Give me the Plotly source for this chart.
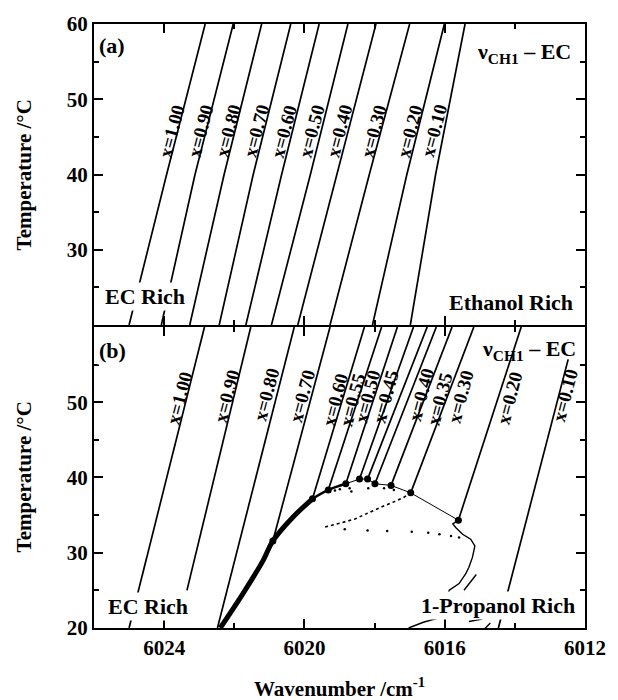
import plotly.graph_objects as go
from plotly.subplots import make_subplots

FONT = "Liberation Serif"

# ---------------- Panel (a): EC - ethanol ----------------
a_comp = ["1.00", "0.90", "0.80", "0.70", "0.60", "0.50", "0.40", "0.30", "0.20", "0.10"]
a_T = [20, 40, 60]
a_wn_T20 = [6025.00, 6024.08, 6023.27, 6022.43, 6021.67, 6020.94, 6020.19, 6019.27, 6018.06, 6016.98]
a_wn_T40 = [6023.93, 6023.12, 6022.29, 6021.46, 6020.65, 6019.83, 6019.08, 6018.15, 6017.08, 6016.26]
a_wn_T60 = [6022.83, 6022.03, 6021.22, 6020.39, 6019.58, 6018.76, 6017.96, 6017.00, 6016.01, 6015.42]
# label placement (wavenumber, temperature)
a_lab_wn = [6023.77, 6022.95, 6022.16, 6021.36, 6020.57, 6019.78, 6018.99, 6018.01, 6016.98, 6016.29]
a_lab_T = [45.8] * 10

# ---------------- Panel (b): EC - 1-propanol ----------------
b_comp = ["1.00", "0.90", "0.80", "0.70", "0.60", "0.55", "0.50", "0.45", "0.425", "0.40", "0.35", "0.30", "0.20", "0.10"]
b_T_low = [20, 25, 20, 31.57, 37.17, 38.35, 39.17, 39.79, 39.79, 39.17, 38.95, 37.96, 34.33, 20]
b_wn_low = [6025.00, 6023.35, 6022.48, 6020.90, 6019.77, 6019.32, 6018.82, 6018.43, 6018.20, 6017.99, 6017.53, 6016.97, 6015.61, 6014.47]
b_T_high = [60, 60, 60, 60, 60, 60, 60, 60, 60, 60, 60, 60, 60, 55.7]
b_wn_high = [6022.85, 6021.53, 6020.29, 6019.27, 6018.29, 6017.80, 6017.35, 6016.89, 6016.50, 6016.24, 6015.79, 6015.17, 6013.82, 6012.48]
b_has_marker = [False, False, False, True, True, True, True, True, True, True, True, True, True, False]

b_lab_text = ["1.00", "0.90", "0.80", "0.70", "0.60", "0.55", "0.50", "0.45", "0.40", "0.35", "0.30", "0.20", "0.10"]
b_lab_wn = [6023.55, 6022.22, 6021.08, 6020.06, 6019.11, 6018.62, 6018.20, 6017.68, 6016.66, 6016.15, 6015.54, 6014.14, 6012.56]
b_lab_T = [50.58, 50.80, 51.01, 50.90, 50.31, 50.31, 50.75, 50.75, 50.97, 50.54, 50.75, 50.58, 51.01]

# phase boundary (thick part, EC-rich side)
bin_thick_wn = [6022.40, 6021.78, 6021.18, 6020.90, 6020.33, 6019.77]
bin_thick_T = [20.0, 24.36, 28.95, 31.57, 34.72, 37.17]
bin_mid_wn = [6019.77, 6019.32, 6018.82]
bin_mid_T = [37.17, 38.35, 39.17]
bin_thin_wn = [6018.82, 6018.43, 6018.20, 6017.99, 6017.53, 6016.97, 6015.61]
bin_thin_T = [39.17, 39.79, 39.79, 39.17, 38.95, 37.96, 34.33]

# dotted trace below the boundary
dot_wn = [6019.41, 6019.20, 6018.99, 6018.78, 6018.57, 6018.33, 6018.10, 6017.82, 6017.54, 6017.35, 6017.17, 6016.97]
dot_T = [33.41, 33.67, 33.93, 34.20, 34.46, 34.98, 35.50, 36.05, 36.59, 36.97, 37.34, 38.00]
sparse_wn = [6018.85, 6018.20, 6017.64, 6016.94, 6016.47, 6016.15, 6015.82, 6015.59]
sparse_T = [33.11, 32.97, 32.88, 32.79, 32.66, 32.45, 32.23, 32.01]
speck_wn = [6019.13, 6018.99, 6018.66, 6018.71, 6018.18, 6017.73, 6017.45]
speck_T = [38.26, 38.45, 38.13, 38.56, 38.56, 38.56, 38.35]

# 1-propanol rich branch
pr_wn = [6015.61, 6015.77, 6015.68, 6015.49, 6015.26, 6015.14, 6015.17, 6015.21, 6015.31, 6015.40, 6015.59, 6015.87, 6016.10, 6016.61, 6017.03]
pr_T = [34.33, 33.84, 33.32, 32.45, 31.80, 30.92, 30.26, 29.38, 28.07, 27.21, 25.90, 25.02, 21.44, 20.76, 20.00]
pr2_wn = [6015.10, 6015.45]
pr2_T = [27.11, 25.02]
pr3_wn = [6015.31, 6014.93]
pr3_T = [20.86, 21.18]
pr4_wn = [6014.93, 6014.70]
pr4_T = [19.55, 20.66]

fig = make_subplots(rows=2, cols=1, shared_xaxes=True, vertical_spacing=2 / 608)

LW = 1.7
for i, c in enumerate(a_comp):
    fig.add_trace(go.Scatter(x=[a_wn_T20[i], a_wn_T40[i], a_wn_T60[i]], y=a_T, mode="lines",
                             line=dict(color="black", width=LW), showlegend=False), row=1, col=1)

for i, c in enumerate(b_comp):
    fig.add_trace(go.Scatter(x=[b_wn_low[i], b_wn_high[i]], y=[b_T_low[i], b_T_high[i]], mode="lines",
                             line=dict(color="black", width=LW), showlegend=False), row=2, col=1)

fig.add_trace(go.Scatter(x=bin_thick_wn, y=bin_thick_T, mode="lines", line=dict(color="black", width=5, shape="spline"),
                         showlegend=False), row=2, col=1)
fig.add_trace(go.Scatter(x=bin_mid_wn, y=bin_mid_T, mode="lines", line=dict(color="black", width=2.5, shape="spline"),
                         showlegend=False), row=2, col=1)
fig.add_trace(go.Scatter(x=bin_thin_wn, y=bin_thin_T, mode="lines", line=dict(color="black", width=1),
                         showlegend=False), row=2, col=1)
fig.add_trace(go.Scatter(x=dot_wn, y=dot_T, mode="lines", line=dict(color="black", width=1.6, dash="dot"),
                         showlegend=False), row=2, col=1)
fig.add_trace(go.Scatter(x=sparse_wn, y=sparse_T, mode="markers", marker=dict(color="black", size=2.5),
                         showlegend=False), row=2, col=1)
fig.add_trace(go.Scatter(x=speck_wn, y=speck_T, mode="markers", marker=dict(color="black", size=2.5),
                         showlegend=False), row=2, col=1)
for xs, ys in [(pr_wn, pr_T), (pr2_wn, pr2_T), (pr3_wn, pr3_T), (pr4_wn, pr4_T)]:
    fig.add_trace(go.Scatter(x=xs, y=ys, mode="lines", line=dict(color="black", width=1.4),
                             showlegend=False), row=2, col=1)

mk_x = [b_wn_low[i] for i in range(len(b_comp)) if b_has_marker[i]]
mk_y = [b_T_low[i] for i in range(len(b_comp)) if b_has_marker[i]]
fig.add_trace(go.Scatter(x=mk_x, y=mk_y, mode="markers", marker=dict(color="black", size=7),
                         showlegend=False), row=2, col=1)

tickfont = dict(family=FONT, size=21, color="black", weight="bold")
xcommon = dict(range=[6026, 6012], autorange=False, tickmode="array", tickvals=[6024, 6020, 6016, 6012],
               ticktext=["6024", "6020", "6016", "6012"],
               ticks="inside", ticklen=9, tickwidth=1.5, tickcolor="black",
               showline=True, linewidth=2, linecolor="black", mirror="ticks",
               showgrid=False, zeroline=False, tickfont=tickfont,
               minor=dict(ticks="inside", ticklen=5, tickwidth=1.5, tickcolor="black",
                          tickmode="array", tickvals=[6022, 6018, 6014], showgrid=False))
fig.update_xaxes(**xcommon)
fig.update_xaxes(showticklabels=False, row=1, col=1)

ycommon = dict(range=[20, 60], autorange=False, tickmode="array",
               ticks="inside", ticklen=9, tickwidth=1.5, tickcolor="black",
               showline=True, linewidth=2, linecolor="black", mirror="ticks",
               showgrid=False, zeroline=False, tickfont=tickfont,
               minor=dict(ticks="inside", ticklen=5, tickwidth=1.5, tickcolor="black",
                          tickmode="array", tickvals=[25, 35, 45, 55], showgrid=False))
fig.update_yaxes(**ycommon)
fig.update_yaxes(tickvals=[30, 40, 50, 60], ticktext=["30", "40", "50", "60"], row=1, col=1)
fig.update_yaxes(tickvals=[20, 30, 40, 50], ticktext=["20", "30", "40", "50"], row=2, col=1)

ann = []
lab_font = dict(family=FONT, size=19, color="black", weight="bold")
for t, x, y in zip(a_comp, a_lab_wn, a_lab_T):
    ann.append(dict(x=x, y=y, xref="x", yref="y", text="x=" + t, showarrow=False, textangle=-75,
                    font=lab_font, xanchor="center", yanchor="middle"))
for t, x, y in zip(b_lab_text, b_lab_wn, b_lab_T):
    ann.append(dict(x=x, y=y, xref="x2", yref="y2", text="x=" + t, showarrow=False, textangle=-75,
                    font=lab_font, xanchor="center", yanchor="middle"))

big = dict(family=FONT, size=22, color="black", weight="bold")
def txt(text, x, y, xref, yref, xanchor, bg=True):
    d = dict(x=x, y=y, xref=xref, yref=yref, text=text, showarrow=False, font=big,
             xanchor=xanchor, yanchor="middle", borderpad=1)
    if bg:
        d["bgcolor"] = "white"
    ann.append(d)

nu = "\u03bd<sub>CH1</sub> \u2013 EC"
txt("(a)", 6025.92, 57.2, "x", "y", "left")
txt(nu, 6012.34, 56.1, "x", "y", "right", bg=False)
txt("EC Rich", 6025.74, 23.8, "x", "y", "left")
txt("Ethanol Rich", 6012.28, 23.0, "x", "y", "right")
txt("(b)", 6025.92, 56.9, "x2", "y2", "left")
txt(nu, 6012.19, 57.0, "x2", "y2", "right", bg=False)
txt("EC Rich", 6025.67, 22.9, "x2", "y2", "left")
txt("1-Propanol Rich", 6012.23, 23.05, "x2", "y2", "right")

title_font = dict(family=FONT, size=21, color="black", weight="bold")
ann.append(dict(x=-0.1417, y=0.75, xref="paper", yref="paper", text="Temperature /\u00b0C", textangle=-90,
                showarrow=False, font=title_font, xanchor="center", yanchor="middle"))
ann.append(dict(x=-0.1417, y=0.25, xref="paper", yref="paper", text="Temperature /\u00b0C", textangle=-90,
                showarrow=False, font=title_font, xanchor="center", yanchor="middle"))
ann.append(dict(x=0.5, y=-0.0987, xref="paper", yref="paper", text="Wavenumber /cm<sup>-1</sup>",
                showarrow=False, font=title_font, xanchor="center", yanchor="middle"))

fig.update_layout(width=618, height=700, margin=dict(l=94, r=23, t=20, b=72),
                  plot_bgcolor="white", paper_bgcolor="white", annotations=ann, showlegend=False)

fig.write_html("out.html", config={"displayModeBar": False},
               post_script="document.body.style.margin='0px';")
